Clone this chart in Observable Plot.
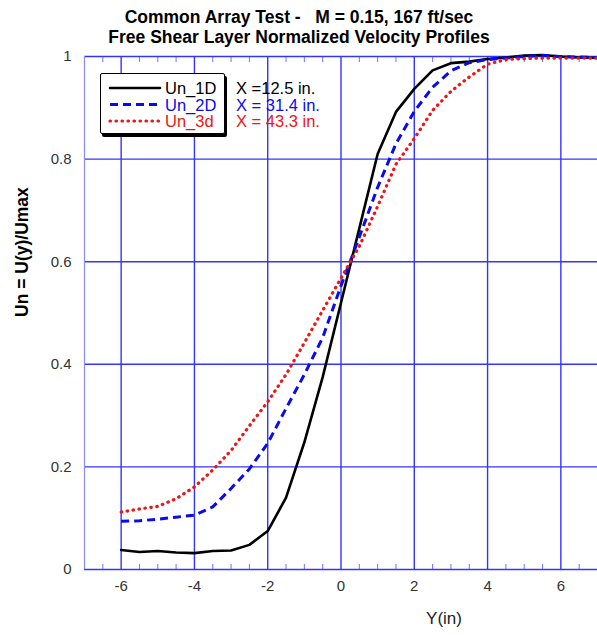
<!DOCTYPE html>
<html>
<head>
<meta charset="utf-8">
<script src="https://cdn.jsdelivr.net/npm/d3@7"></script>
<script src="https://cdn.jsdelivr.net/npm/@observablehq/plot@0.6"></script>
<style>
  body { margin: 0; background: #fff; }
  #wrap { position: relative; width: 597px; height: 638px; font-family: "Liberation Sans", Arial, Helvetica, sans-serif; }
  #title { position: absolute; left: 0; top: 7px; width: 598px; text-align: center; font-weight: bold; font-size: 17.5px; line-height: 20px; color: #000; }
  #legend { position: absolute; left: 100px; top: 73px; width: 123px; height: 59px; border: 1.5px solid #000; border-radius: 2px; background: #fff; box-shadow: 2px 3px 0 #000; }
</style>
</head>
<body>
<div id="wrap">
  <div id="chart"></div>
  <div id="title">Common Array Test - &nbsp;&nbsp;M = 0.15, 167 ft/sec<br>Free Shear Layer Normalized Velocity Profiles</div>
  <div id="legend"></div>
  <svg id="legtext" width="120" height="60" style="position:absolute;left:235px;top:77px;overflow:visible"></svg>
</div>
<script>
// ---- data ----
const yPos = [-6, -5.5, -5, -4.5, -4, -3.5, -3, -2.5, -2, -1.5, -1, -0.5, 0, 0.5, 1, 1.5, 2, 2.5, 3, 3.5, 4, 4.5, 5, 5.5, 6, 6.5, 7];
const un1D = [0.038, 0.034, 0.036, 0.033, 0.032, 0.036, 0.037, 0.048, 0.075, 0.14, 0.248, 0.375, 0.52, 0.665, 0.81, 0.892, 0.937, 0.973, 0.987, 0.99, 0.995, 0.998, 1.002, 1.003, 1.0, 0.998, 0.997];
const un2D = [0.094, 0.095, 0.098, 0.102, 0.106, 0.122, 0.158, 0.196, 0.246, 0.314, 0.38, 0.452, 0.553, 0.648, 0.745, 0.83, 0.893, 0.94, 0.972, 0.988, 0.994, 0.997, 1.0, 1.002, 1.0, 0.999, 0.998];
const un3d = [0.112, 0.118, 0.123, 0.138, 0.161, 0.194, 0.232, 0.28, 0.327, 0.38, 0.442, 0.505, 0.568, 0.63, 0.708, 0.79, 0.84, 0.895, 0.932, 0.96, 0.985, 0.994, 0.996, 0.997, 0.997, 0.997, 0.997];
const seriesNames = ["Un_1D", "Un_2D", "Un_3d"];
const stationLabels = ["X =12.5 in.", "X = 31.4 in.", "X = 43.3 in."];
const colors = ["#000000", "#0a0aee", "#ee1515"];
const xTicks = [-6, -4, -2, 0, 2, 4, 6];
const yTicks = [0, 0.2, 0.4, 0.6, 0.8, 1];
const xMinor = [-6.5, -5.5, -5, -4.5, -3.5, -3, -2.5, -1.5, -1, -0.5, 0.5, 1, 1.5, 2.5, 3, 3.5, 4.5, 5, 5.5, 6.5];

const styles = [
  {stroke: colors[0], strokeWidth: 2.6, dash: null, cap: "round"},
  {stroke: colors[1], strokeWidth: 3, dash: "8,5", cap: "butt"},
  {stroke: colors[2], strokeWidth: 3.2, dash: "0.5,5.5", cap: "round"}
];
const seriesVals = [un1D, un2D, un3d];
const rows = seriesVals.map(vals => yPos.map((x, i) => ({x, y: vals[i]})));

const gridColor = "#3434ff";

const lineMarks = rows.map((data, k) => Plot.line(data, {
  x: "x", y: "y",
  stroke: styles[k].stroke, strokeWidth: styles[k].strokeWidth,
  strokeDasharray: styles[k].dash, strokeLinecap: styles[k].cap, strokeLinejoin: "round",
  curve: "linear"
}));

const chart = Plot.plot({
  width: 597, height: 638,
  marginLeft: 84, marginRight: 0, marginTop: 56, marginBottom: 69,
  x: {domain: [-7, 7]},
  y: {domain: [0, 1]},
  style: {fontFamily: "'Liberation Sans', Arial, sans-serif", fontSize: "15px", color: "#333", background: "#fff", overflow: "visible"},
  marks: [
    Plot.ruleX(xTicks, {stroke: gridColor, strokeWidth: 1.4}),
    Plot.ruleY(yTicks, {stroke: gridColor, strokeWidth: 1.4}),
    Plot.ruleX([-7], {stroke: "#8a8aff", strokeWidth: 1.2}),
    Plot.axisX(xMinor, {anchor: "bottom", tickSize: -5, tickFormat: () => "", stroke: "#7070ff", label: null}),
    Plot.axisX(xMinor, {anchor: "top", tickSize: -5, tickFormat: () => "", stroke: "#7070ff", label: null}),
    Plot.axisX(xTicks, {anchor: "bottom", tickSize: 0, tickPadding: 11, tickFormat: d => String(d), fill: "#333", label: null}),
    Plot.axisY(yTicks, {anchor: "left", tickSize: 0, tickPadding: 13, tickFormat: d => (d === 0 ? "0" : d === 1 ? "1" : d.toFixed(1)), fill: "#333", label: null}),
    Plot.text(["Y(in)"], {frameAnchor: "bottom", dx: 103, dy: 54, fontSize: 17, fill: "#222"}),
    Plot.text(["Un = U(y)/Umax"], {frameAnchor: "left", rotate: -90, dx: -62, dy: 4, fontSize: 17.5, fontWeight: "bold", fill: "#000"}),
    ...lineMarks
  ]
});
document.getElementById("chart").appendChild(chart);

// ---- legend ----
const leg = document.getElementById("legend");
let svg = `<svg width="123" height="59" style="position:absolute;left:0;top:0">`;
seriesNames.forEach((name, k) => {
  const y = 14 + k * 16.5;
  const s = styles[k];
  svg += `<line x1="9" x2="59" y1="${y}" y2="${y}" stroke="${s.stroke}" stroke-width="${s.strokeWidth}" ${s.dash ? `stroke-dasharray="${s.dash}"` : ""} stroke-linecap="${s.cap}"/>`;
  svg += `<text x="64" y="${y + 6}" font-size="16.5" fill="${s.stroke}" font-family="'Liberation Sans', Arial, sans-serif">${name}</text>`;
});
svg += `</svg>`;
leg.innerHTML = svg;
document.getElementById("legtext").innerHTML = stationLabels.map((t, k) =>
  `<text x="1" y="${17 + k * 16.5}" font-size="16.5" fill="${colors[k]}" font-family="'Liberation Sans', Arial, sans-serif" xml:space="preserve">${t}</text>`).join("");
</script>
</body>
</html>
